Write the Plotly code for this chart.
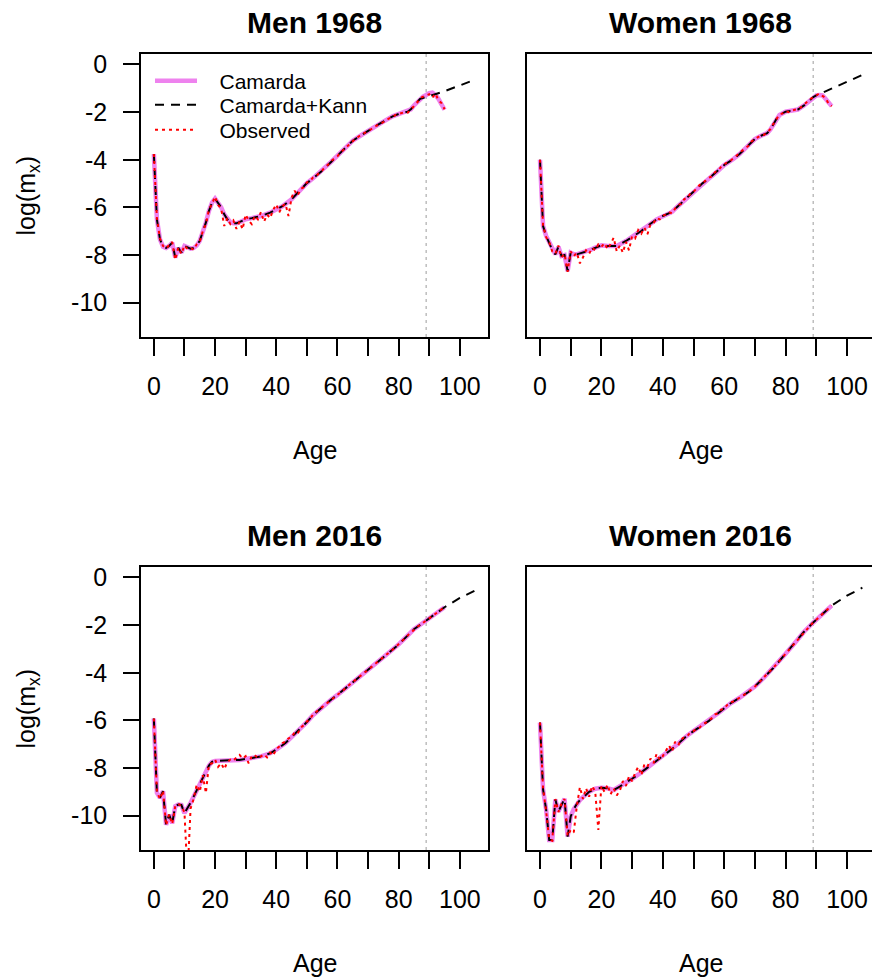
import plotly.graph_objects as go

# ---------------- data ----------------
AGES = list(range(0, 96))
X_TICKS = [0, 20, 40, 60, 80, 100]
X_TICK_TEXT = ["0", "20", "40", "60", "80", "100"]
X_MINOR_STEP = 10
Y_TICKS = [0, -2, -4, -6, -8, -10]
Y_TICK_TEXT = ["0", "-2", "-4", "-6", "-8", "-10"]
VLINE_AGE = 89
TITLES = ["Men 1968", "Women 1968", "Men 2016", "Women 2016"]
SERIES_NAMES = ["Camarda", "Camarda+Kann", "Observed"]

# Men 1968
m68_cam_age = [0, 1, 2, 3, 4, 5, 6, 7, 8, 9, 10, 11, 12, 13, 14, 15, 16, 17, 18, 19, 20,
               21, 22, 23, 24, 25, 26, 27, 28, 29, 30, 32, 35, 38, 40, 42, 45, 48, 50, 52,
               55, 58, 60, 63, 65, 68, 70, 73, 75, 78, 80, 82, 83, 84, 85, 86, 87, 88, 89,
               90, 91, 92, 93, 94, 95]
m68_cam = [-3.76, -6.5, -7.34, -7.65, -7.7, -7.62, -7.48, -8.1, -7.7, -7.9, -7.62, -7.68,
           -7.73, -7.7, -7.6, -7.4, -7.06, -6.64, -6.15, -5.8, -5.63, -5.8, -6.0, -6.29,
           -6.5, -6.62, -6.67, -6.67, -6.62, -6.56, -6.5, -6.45, -6.36, -6.22, -6.08, -5.95,
           -5.66, -5.25, -4.98, -4.78, -4.46, -4.08, -3.83, -3.45, -3.2, -2.95, -2.78, -2.55,
           -2.4, -2.18, -2.08, -2.01, -1.98, -1.88, -1.72, -1.58, -1.44, -1.35, -1.28, -1.2,
           -1.18, -1.28, -1.44, -1.65, -1.9]
m68_kann_cut = 87
m68_kann_ext_age = [89, 90, 95, 100, 105]
m68_kann_ext = [-1.37, -1.33, -1.12, -0.88, -0.63]
m68_obs = [-3.76, -6.45, -7.3, -7.62, -7.72, -7.6, -7.45, -8.2, -7.68, -7.95, -7.6, -7.75,
           -7.7, -7.78, -7.55, -7.45, -7.0, -6.7, -6.1, -5.85, -5.55, -5.9, -6.05, -6.78,
           -6.45, -6.7, -6.55, -6.9, -6.6, -6.92, -6.3, -6.55, -6.7, -6.35, -6.5, -6.2,
           -6.6, -6.3, -6.45, -6.1, -5.87, -6.2, -5.95, -5.85, -6.36, -5.6, -5.3, -5.5,
           -5.22, -5.15, -4.95, -4.9, -4.75, -4.7, -4.55, -4.45, -4.3, -4.2, -4.05, -3.95,
           -3.85, -3.7, -3.58, -3.45, -3.32, -3.2, -3.1, -3.02, -2.95, -2.85, -2.8, -2.72,
           -2.62, -2.56, -2.47, -2.42, -2.33, -2.26, -2.18, -2.12, -2.08, -2.05, -2.0,
           -2.02, -1.86, -1.75, -1.6, -1.42, -1.35, -1.3, -1.25, -1.4, -1.22, -1.5, -1.62,
           -1.88]

# Women 1968
w68_cam_age = [0, 1, 2, 3, 4, 5, 6, 7, 8, 9, 10, 11, 12, 13, 14, 15, 16, 17, 18, 19, 20,
               22, 25, 28, 30, 33, 35, 38, 40, 43, 45, 48, 50, 53, 55, 58, 60, 63, 65, 68,
               70, 72, 74, 75, 76, 77, 78, 80, 82, 84, 86, 88, 89, 90, 91, 92, 93, 94, 95]
w68_cam = [-4.0, -6.78, -7.2, -7.48, -7.79, -7.97, -7.65, -8.04, -8.0, -8.67, -7.9, -7.97,
           -7.97, -7.93, -7.9, -7.87, -7.82, -7.75, -7.69, -7.64, -7.59, -7.62, -7.62,
           -7.41, -7.24, -6.99, -6.78, -6.5, -6.36, -6.19, -5.94, -5.59, -5.35, -4.98,
           -4.79, -4.46, -4.22, -3.97, -3.76, -3.38, -3.13, -2.99, -2.88, -2.74, -2.5,
           -2.29, -2.12, -1.98, -1.94, -1.89, -1.72, -1.49, -1.37, -1.3, -1.28, -1.3,
           -1.44, -1.61, -1.75]
w68_kann_cut = 88
w68_kann_ext_age = [89, 90, 95, 100, 105]
w68_kann_ext = [-1.37, -1.3, -1.02, -0.72, -0.44]
w68_obs = [-4.0, -6.75, -7.25, -7.45, -7.85, -7.95, -7.6, -8.1, -7.95, -8.7, -7.85, -8.05,
           -7.9, -8.35, -8.1, -7.8, -7.95, -7.7, -7.8, -7.55, -7.65, -7.5, -7.75, -7.55,
           -7.27, -7.85, -7.6, -7.9, -7.45, -7.8, -7.2, -7.3, -6.95, -7.1, -6.85, -7.13,
           -6.7, -6.65, -6.45, -6.5, -6.35, -6.3, -6.2, -6.25, -6.05, -5.9, -5.85, -5.65,
           -5.6, -5.42, -5.35, -5.2, -5.05, -5.0, -4.85, -4.75, -4.7, -4.52, -4.45, -4.3,
           -4.2, -4.1, -4.05, -3.95, -3.85, -3.72, -3.6, -3.48, -3.4, -3.22, -3.12, -3.05,
           -2.98, -2.95, -2.85, -2.72, -2.5, -2.3, -2.1, -2.05, -1.95, -2.0, -1.93, -1.9,
           -1.88, -1.8, -1.68, -1.58, -1.45, -1.38, -1.3, -1.22, -1.32, -1.4, -1.65, -1.75]

# Men 2016
m16_cam_age = [0, 1, 2, 3, 4, 5, 6, 7, 8, 9, 10, 11, 12, 13, 14, 15, 16, 17, 18, 19, 20,
               22, 25, 28, 30, 33, 35, 38, 40, 43, 45, 48, 50, 52, 55, 58, 60, 63, 65, 68,
               70, 73, 75, 78, 80, 83, 85, 88, 90, 93, 95]
m16_cam = [-5.92, -9.04, -9.25, -8.97, -10.38, -9.96, -10.32, -9.6, -9.53, -9.55, -9.89,
           -9.7, -9.46, -9.2, -8.92, -8.65, -8.4, -8.15, -7.9, -7.74, -7.7, -7.69, -7.69,
           -7.66, -7.62, -7.57, -7.51, -7.38, -7.23, -6.95, -6.7, -6.35, -6.07, -5.78,
           -5.43, -5.12, -4.93, -4.6, -4.4, -4.08, -3.87, -3.56, -3.35, -3.03, -2.81,
           -2.43, -2.17, -1.9, -1.71, -1.44, -1.25]
m16_kann_cut = 95
m16_kann_ext_age = [100, 105]
m16_kann_ext = [-0.86, -0.55]
m16_obs = [-5.92, -9.0, -9.3, -8.95, -10.4, -9.95, -10.35, -9.6, -9.5, -9.6, -9.85, -12.5,
           -9.7, -9.3, -8.7, -9.0, -8.3, -9.05, -7.85, -7.8, -7.65, -7.95, -7.8, -8.05,
           -7.75, -7.65, -7.7, -7.55, -7.45, -7.6, -7.5, -7.8, -7.5, -7.45, -7.6, -7.5,
           -7.42, -7.55, -7.35, -7.48, -7.2, -7.1, -6.95, -6.9, -6.75, -6.72, -6.5, -6.55,
           -6.3, -6.2, -6.05, -5.95, -5.75, -5.65, -5.55, -5.42, -5.35, -5.22, -5.12,
           -5.02, -4.93, -4.82, -4.72, -4.6, -4.5, -4.4, -4.28, -4.19, -4.08, -3.97, -3.87,
           -3.77, -3.66, -3.56, -3.45, -3.35, -3.24, -3.14, -3.03, -2.92, -2.81, -2.68,
           -2.56, -2.43, -2.3, -2.17, -2.08, -1.99, -1.9, -1.8, -1.71, -1.62, -1.53,
           -1.44, -1.34, -1.25]

# Women 2016
w16_cam_age = [0, 1, 2, 3, 4, 5, 6, 7, 8, 9, 10, 11, 12, 13, 14, 15, 16, 17, 18, 20, 22,
               24, 26, 28, 30, 33, 35, 38, 40, 43, 45, 48, 50, 53, 55, 58, 60, 62, 65, 68,
               70, 73, 76, 78, 80, 83, 86, 89, 90, 93, 95]
w16_cam = [-6.09, -8.9, -9.75, -11.02, -11.02, -9.32, -9.82, -9.53, -9.29, -10.88, -10.03,
           -9.72, -9.5, -9.35, -9.22, -9.1, -9.0, -8.93, -8.87, -8.83, -8.85, -8.92, -8.78,
           -8.6, -8.45, -8.18, -7.98, -7.72, -7.52, -7.2, -6.98, -6.63, -6.45, -6.2, -6.02,
           -5.7, -5.5, -5.29, -5.05, -4.8, -4.58, -4.2, -3.8, -3.5, -3.2, -2.75, -2.28,
           -1.89, -1.77, -1.4, -1.18]
w16_kann_cut = 95
w16_kann_ext_age = [100, 105]
w16_kann_ext = [-0.76, -0.43]
w16_obs = [-6.09, -8.85, -9.8, -11.0, -11.05, -9.3, -9.85, -9.5, -9.3, -10.85, -10.6,
           -10.7, -9.6, -8.8, -9.3, -8.85, -9.2, -8.75, -9.0, -10.6, -8.75, -9.0, -8.7,
           -9.1, -8.85, -9.15, -8.95, -8.55, -8.75, -8.35, -8.55, -8.2, -7.95, -8.3, -7.85,
           -7.95, -7.6, -7.8, -7.4, -7.65, -7.5, -7.25, -7.05, -7.3, -6.9, -7.05, -6.8,
           -6.7, -6.65, -6.5, -6.45, -6.35, -6.3, -6.15, -6.1, -6.0, -5.9, -5.75, -5.7,
           -5.55, -5.5, -5.35, -5.25, -5.2, -5.13, -5.05, -4.97, -4.88, -4.8, -4.7, -4.58,
           -4.45, -4.33, -4.2, -4.07, -3.94, -3.8, -3.65, -3.5, -3.35, -3.2, -3.05, -2.9,
           -2.75, -2.6, -2.44, -2.28, -2.15, -2.02, -1.89, -1.77, -1.65, -1.52, -1.4,
           -1.29, -1.18]

# ---------------- layout helpers ----------------
W, H = 872, 980
FONT = "Liberation Sans, Arial, Helvetica, sans-serif"
X_RANGE_L = [-4.2, 109.2]
X_RANGE_R = [-4.23, 108.14]
Y_RANGE = [-11.44, 0.44]
PAD = "\u00a0\u00a0\u00a0"

# pixel boxes (left, top, right, bottom)
boxes = [(141, 54, 488, 337), (527, 54, 872, 337), (141, 567, 488, 850), (527, 567, 872, 850)]
legend_rows = [81, 105, 130]
legend_keys = ["legend", "legend2", "legend3"]

panel_data = [
    (m68_cam_age, m68_cam, m68_kann_cut, m68_kann_ext_age, m68_kann_ext, m68_obs),
    (w68_cam_age, w68_cam, w68_kann_cut, w68_kann_ext_age, w68_kann_ext, w68_obs),
    (m16_cam_age, m16_cam, m16_kann_cut, m16_kann_ext_age, m16_kann_ext, m16_obs),
    (w16_cam_age, w16_cam, w16_kann_cut, w16_kann_ext_age, w16_kann_ext, w16_obs),
]
styles = [dict(color="#EE82EE", width=4.5),
          dict(color="black", width=2, dash="9px,7px"),
          dict(color="red", width=2, dash="3px,4px")]

fig = go.Figure()
annotations = []
shapes = []

for i, (cam_age, cam, cut, ext_age, ext, obs) in enumerate(panel_data):
    n = i + 1
    xa = "x" if n == 1 else f"x{n}"
    ya = "y" if n == 1 else f"y{n}"
    kann_age = [a for a in cam_age if a <= cut] + ext_age
    kann = [v for a, v in zip(cam_age, cam) if a <= cut] + ext
    series = [(cam_age, cam), (kann_age, kann), (AGES, obs)]
    for k, (sx, sy) in enumerate(series):
        fig.add_trace(go.Scatter(x=sx, y=sy, mode="lines", name=PAD + SERIES_NAMES[k],
                                 line=styles[k], xaxis=xa, yaxis=ya,
                                 showlegend=(i == 0), legend=legend_keys[k]))

    l, t, r, b = boxes[i]
    left_col = (i % 2 == 0)
    xdom = [l / W, r / W]
    ydom = [1 - b / H, 1 - t / H]
    xkey = "xaxis" if n == 1 else f"xaxis{n}"
    ykey = "yaxis" if n == 1 else f"yaxis{n}"
    fig.layout[xkey] = dict(
        domain=xdom, anchor=ya, range=X_RANGE_L if left_col else X_RANGE_R,
        tickmode="array", tickvals=X_TICKS, ticktext=X_TICK_TEXT, ticks="outside",
        ticklen=17, tickwidth=1.5, tickcolor="black",
        minor=dict(tick0=0, dtick=X_MINOR_STEP, ticks="outside", ticklen=17,
                   tickwidth=1.5, tickcolor="black", showgrid=False),
        showline=True, linecolor="black", linewidth=1.5, mirror=True, showgrid=False,
        zeroline=False, tickfont=dict(family=FONT, size=25, color="black"),
        ticklabelstandoff=9, automargin=False, fixedrange=True)
    fig.layout[ykey] = dict(
        domain=ydom, anchor=xa, range=Y_RANGE,
        tickmode="array", tickvals=Y_TICKS, ticktext=Y_TICK_TEXT,
        ticks="outside" if left_col else "", ticklen=16, tickwidth=1.5,
        tickcolor="black", showticklabels=left_col, showline=True,
        linecolor="black", linewidth=1.5, mirror=left_col, showgrid=False,
        zeroline=False, tickfont=dict(family=FONT, size=25, color="black"),
        ticklabelstandoff=11, automargin=False, fixedrange=True)

    shapes.append(dict(type="line", xref=xa, yref=f"{ya} domain", x0=VLINE_AGE,
                       x1=VLINE_AGE, y0=0, y1=1,
                       line=dict(color="#BEBEBE", width=1.5, dash="3px,4px"),
                       layer="below"))

    cx = (l + (r + 2 if not left_col else r)) / 2 / W
    annotations.append(dict(text=f"<b>{TITLES[i]}</b>", x=cx, y=1 - (t - 32) / H,
                            xref="paper", yref="paper", showarrow=False,
                            xanchor="center", yanchor="middle",
                            font=dict(family=FONT, size=30, color="black")))
    annotations.append(dict(text="Age", x=cx, y=1 - (b + 113) / H,
                            xref="paper", yref="paper", showarrow=False,
                            xanchor="center", yanchor="middle",
                            font=dict(family=FONT, size=25, color="black")))
    if left_col:
        annotations.append(dict(text="log(m<sub>x</sub>)", x=27 / W,
                                y=1 - ((t + b) / 2) / H, xref="paper", yref="paper",
                                showarrow=False, textangle=-90, xanchor="center",
                                yanchor="middle",
                                font=dict(family=FONT, size=25, color="black")))

legend_common = dict(xanchor="left", yanchor="middle", bgcolor="rgba(0,0,0,0)",
                     font=dict(family=FONT, size=21, color="black"), itemwidth=42,
                     tracegroupgap=0)
fig.update_layout(
    width=W, height=H, margin=dict(l=0, r=0, t=0, b=0),
    paper_bgcolor="white", plot_bgcolor="white",
    font=dict(family=FONT, color="black"),
    annotations=annotations, shapes=shapes,
    legend=dict(x=150 / W, y=1 - legend_rows[0] / H, **legend_common),
    legend2=dict(x=150 / W, y=1 - legend_rows[1] / H, **legend_common),
    legend3=dict(x=150 / W, y=1 - legend_rows[2] / H, **legend_common),
)

fig.write_html("out.html")
